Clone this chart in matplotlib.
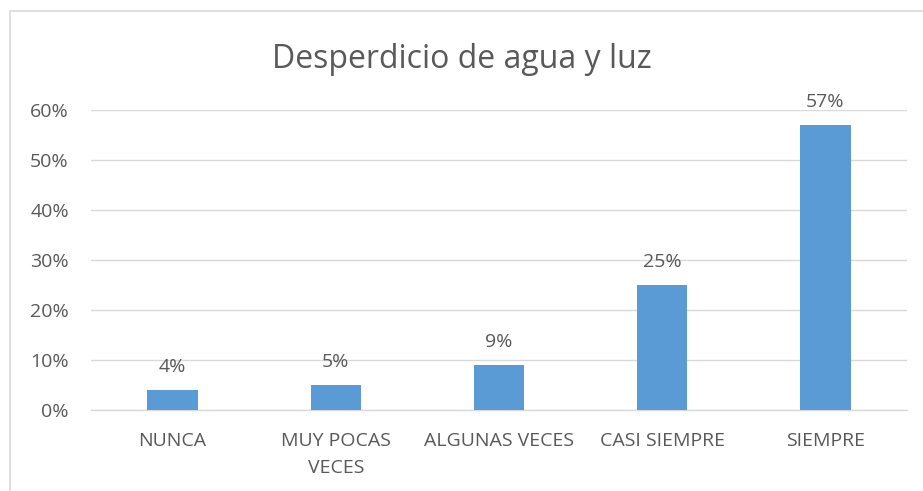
import matplotlib
matplotlib.use("Agg")
import matplotlib.pyplot as plt
from matplotlib.patches import Rectangle
from matplotlib.ticker import PercentFormatter

plt.rcParams["font.family"] = ["Open Sans", "DejaVu Sans"]

# ===================== datos =====================
categorias = ["NUNCA", "MUY POCAS\nVECES", "ALGUNAS VECES", "CASI SIEMPRE", "SIEMPRE"]
valores = [4, 5, 9, 25, 57]
ticks_y = [0, 10, 20, 30, 40, 50, 60]

texto = "#595959"
azul = "#5B9BD5"
rejilla = "#D9D9D9"

W, H = 923, 491
fig = plt.figure(figsize=(W / 100, H / 100), dpi=100)

# borde del area de grafico (se corta a la derecha y abajo)
fig.patches.append(Rectangle((10 / W, -0.1), 1.2, 1 - 11 / H + 0.1,
                             transform=fig.transFigure, fill=False,
                             edgecolor="#D9D9D9", linewidth=1.2))

ax = fig.add_axes([91 / W, (H - 410) / H, (907 - 91) / W, 300 / H])

x = list(range(len(categorias)))
bars = ax.bar(x, valores, width=0.31, color=azul, zorder=3)

for b, v in zip(bars, valores):
    ax.annotate(f"{v}%", (b.get_x() + b.get_width() / 2, v),
                xytext=(0, 10), textcoords="offset points",
                ha="center", va="bottom", fontsize=14, color=texto)

ax.set_xlim(-0.5, len(categorias) - 0.5)
ax.set_ylim(0, 60)
ax.set_yticks(ticks_y)
ax.yaxis.set_major_formatter(PercentFormatter(decimals=0))
ax.set_xticks(x)
ax.set_xticklabels(categorias, linespacing=1.6)

ax.grid(axis="y", color=rejilla, linewidth=1, zorder=0)
ax.tick_params(axis="both", length=0, labelsize=14, colors=texto)
ax.tick_params(axis="y", pad=16)
ax.tick_params(axis="x", pad=16)
for s in ["top", "right", "left"]:
    ax.spines[s].set_visible(False)
ax.spines["bottom"].set_color(rejilla)
ax.spines["bottom"].set_linewidth(1)

fig.text(0.5, (H - 60) / H, "Desperdicio de agua y luz", ha="center", va="center",
         fontsize=23, color=texto)

fig.savefig("out.png", dpi=100, facecolor="white")
